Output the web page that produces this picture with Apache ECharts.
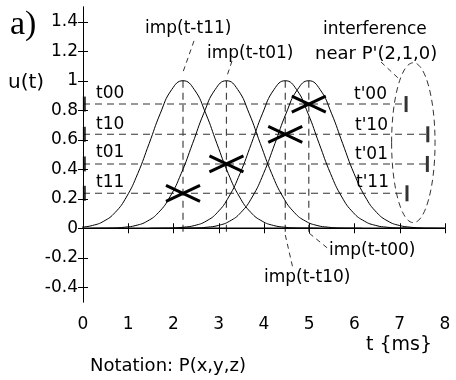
<!DOCTYPE html>
<html><head><meta charset="utf-8">
<script src="https://cdn.jsdelivr.net/npm/echarts@6/dist/echarts.min.js"></script>
<style>html,body{margin:0;padding:0;background:#fff}#c{width:456px;height:380px}</style>
</head><body><div id="c"></div>
<script>
// ---- data ----
const xTicks = [0, 1, 2, 3, 4, 5, 6, 7, 8];
const yTicks = [-0.4, -0.2, 0, 0.2, 0.4, 0.6, 0.8, 1, 1.2, 1.4];
const pulseNames = ['t11', 't01', 't10', 't00'];
const pulseCenters = [2.21, 3.17, 4.47, 4.99];
const levelValues = [0.237, 0.436, 0.637, 0.842];      // t11, t01, t10, t00
const rightMarkerT = [7.16, 7.61, 7.62, 7.14];          // t'11, t'01, t'10, t'00
const profileOffsets = [-3, -2.75, -2.5, -2.25, -2, -1.75, -1.5, -1.25, -1, -0.75, -0.5, -0.25, 0,
                        0.25, 0.5, 0.75, 1, 1.25, 1.5, 1.75, 2, 2.25, 2.5, 2.75, 3];
const profileValues  = [0.000, 0.001, 0.002, 0.007, 0.019, 0.048, 0.107, 0.212, 0.371, 0.573, 0.780, 0.940, 1.000,
                        0.940, 0.780, 0.573, 0.371, 0.212, 0.107, 0.048, 0.019, 0.007, 0.002, 0.001, 0.000];
const peakValue = 1;
const dropBottom = -0.045;
const leaderLines = [
  [[2.453, 1.270], [2.210, 1.059]],
  [[3.293, 1.134], [3.182, 1.032]],
  [[5.001, -0.034], [5.408, -0.136]],
  [[4.471, -0.046], [4.634, -0.265]],
  [[6.586, 1.127], [6.961, 1.019]]
];
const ellipseCenter = [7.30, 0.58];
const ellipseRadii = [0.48, 0.542];

const FONT = '"DejaVu Sans"';
const chart = echarts.init(document.getElementById('c'), null, {renderer: 'canvas'});

const series = [];
// pulses
pulseCenters.forEach((c, i) => {
  series.push({
    type: 'line', name: 'imp(t-' + pulseNames[i] + ')', silent: true,
    data: profileOffsets.map((o, k) => [c + o, profileValues[k]]),
    showSymbol: false, smooth: 0.5, clip: true,
    lineStyle: {color: '#000', width: 1}, z: 3
  });
});
// baseline
series.push({type: 'line', silent: true, data: [[0, 0], [8, 0]], showSymbol: false,
  lineStyle: {color: '#000', width: 1.5}, z: 4});
// horizontal dashed
levelValues.forEach((v, i) => {
  series.push({type: 'line', silent: true, data: [[0, v], [rightMarkerT[i], v]], showSymbol: false,
    lineStyle: {color: '#333', width: 1.1, type: [7, 5]}, z: 2});
});
// vertical dashed
pulseCenters.forEach((c) => {
  series.push({type: 'line', silent: true, data: [[c, peakValue], [c, dropBottom]], showSymbol: false,
    lineStyle: {color: '#444', width: 1.2, type: [7, 5]}, z: 2});
});
// leader lines
leaderLines.forEach((seg) => {
  series.push({type: 'line', silent: true, data: seg, showSymbol: false, clip: false,
    lineStyle: {color: '#333', width: 1, type: [5, 4]}, z: 2});
});
// markers
series.push({type: 'scatter', silent: true, data: levelValues.map(v => [0.03, v]),
  symbol: 'rect', symbolSize: [3, 15], itemStyle: {color: '#000'}, clip: false, z: 5});
series.push({type: 'scatter', silent: true, data: levelValues.map((v, i) => [rightMarkerT[i], v]),
  symbol: 'rect', symbolSize: [3, 16], itemStyle: {color: '#000'}, z: 5});
// crosses
series.push({
  type: 'custom', silent: true, z: 6,
  data: pulseCenters.map((c, i) => [c, levelValues[i]]),
  renderItem: function (params, api) {
    const p = api.coord([api.value(0), api.value(1)]);
    const w = 17, h = 8;
    const st = {stroke: '#000', lineWidth: 3};
    return {type: 'group', children: [
      {type: 'line', shape: {x1: p[0] - w, y1: p[1] - h, x2: p[0] + w, y2: p[1] + h}, style: st},
      {type: 'line', shape: {x1: p[0] - w, y1: p[1] + h, x2: p[0] + w, y2: p[1] - h}, style: st}
    ]};
  }
});

const yFmt = v => String(Math.round(v * 10) / 10);
const axisLineStyle = {show: true, lineStyle: {color: '#000', width: 1}};
const tickStyle = {show: true, inside: true, length: 5, lineStyle: {color: '#000', width: 1}};

chart.setOption({
  animation: false,
  backgroundColor: '#fff',
  grid: {left: 83, right: 11, top: 7, bottom: 78, containLabel: false},
  xAxis: [
    {type: 'value', min: xTicks[0], max: xTicks[xTicks.length - 1], interval: 1, position: 'bottom',
     axisLine: axisLineStyle, axisTick: tickStyle, splitLine: {show: false},
     axisLabel: {color: '#000', fontSize: 17, fontFamily: FONT, margin: 14}},
    {type: 'value', min: xTicks[0], max: xTicks[xTicks.length - 1], interval: 1, position: 'top',
     axisLine: axisLineStyle, axisTick: tickStyle, splitLine: {show: false}, axisLabel: {show: false}}
  ],
  yAxis: [
    {type: 'value', min: -0.5, max: 1.5, position: 'left',
     axisLine: axisLineStyle, axisTick: Object.assign({}, tickStyle, {customValues: yTicks}),
     splitLine: {show: false},
     axisLabel: {color: '#000', fontSize: 17, fontFamily: FONT, margin: 5, customValues: yTicks, formatter: yFmt}},
    {type: 'value', min: -0.5, max: 1.5, position: 'right',
     axisLine: axisLineStyle, axisTick: Object.assign({}, tickStyle, {customValues: yTicks}),
     splitLine: {show: false}, axisLabel: {show: false}}
  ],
  series: series
});

// annotations
const c0 = chart.convertToPixel({gridIndex: 0}, ellipseCenter);
const c1 = chart.convertToPixel({gridIndex: 0}, [ellipseCenter[0] + ellipseRadii[0], ellipseCenter[1] + ellipseRadii[1]]);
function txt(text, x, y, size, fam) {
  return {type: 'text', x: x, y: y, z: 10, silent: true,
    style: {text: text, font: size + 'px ' + (fam || FONT), fill: '#000', align: 'left', verticalAlign: 'middle'}};
}
chart.setOption({
  graphic: [
    txt('a)', 10, 25, 34, '"Liberation Serif"'),
    txt('u(t)', 8, 83, 20),
    txt('imp(t-t11)', 145, 29, 17),
    txt('imp(t-t01)', 207, 54, 17),
    txt('interference', 323, 30, 17),
    txt("near P'(2,1,0)", 315, 54, 18),
    txt('t00', 96, 94, 17),
    txt('t10', 96, 125, 17),
    txt('t01', 96, 153, 17),
    txt('t11', 96, 183, 17),
    txt("t'00", 354, 95, 17),
    txt("t'10", 355, 126, 17),
    txt("t'01", 355, 155, 17),
    txt("t'11", 356, 183, 17),
    txt('imp(t-t00)', 329, 251, 17),
    txt('imp(t-t10)', 264, 278, 17),
    txt('t {ms}', 366, 345, 19),
    txt('Notation: P(x,y,z)', 90, 366, 18),
    {type: 'ellipse', z: 9, silent: true,
     shape: {cx: c0[0], cy: c0[1], rx: Math.abs(c1[0] - c0[0]), ry: Math.abs(c1[1] - c0[1])},
     style: {fill: null, stroke: '#333', lineWidth: 1, lineDash: [6, 4]}}
  ]
});
</script>
</body></html>
